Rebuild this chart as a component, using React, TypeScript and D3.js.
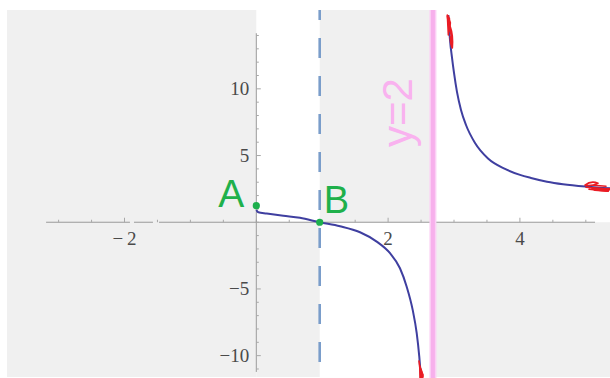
import React from 'react';
import * as d3 from 'd3';

const W = 610;
const H = 378;

// Sampled branches of the curve, left of and right of the vertical asymptote
const leftBranchX = [0, 0.03, 0.158, 0.41, 0.663, 0.962, 1.27, 1.574, 1.827, 2.029, 2.18, 2.282, 2.373, 2.434, 2.473, 2.499];
const leftBranchY = [0.92, 0.75, 0.66, 0.49, 0.33, 0, -0.3, -0.75, -1.45, -2.32, -3.45, -4.83, -6.57, -8.32, -10.07, -11.67];
const rightBranchX = [2.914, 2.939, 2.97, 3.0, 3.045, 3.106, 3.182, 3.319, 3.516, 3.774, 4.002, 4.168, 4.411, 4.654, 5.018, 5.367];
const rightBranchY = [15.54, 13.67, 12.32, 11.19, 9.77, 8.42, 7.29, 5.94, 4.78, 4.0, 3.55, 3.32, 3.04, 2.85, 2.67, 2.55];

// Named points
const pointNames = ['A', 'B'];
const pointX = [0, 0.962];
const pointY = [1.24, 0];

// Guide lines
const dashedX = 0.962;
const asymptoteX = 2.68;
const asymptoteLabel = 'y=2';

// Sign-chart shading bands
const bandX0 = [-3.783, 0, 0.962, 2.68];
const bandX1 = [0, 0.962, 2.68, 5.367];
const bandTop = [15.91, 0, 15.91, 0];
const bandBottom = [-11.6, -11.6, 0, -11.6];

// Axes
const xAxisSegments: [number, number][] = [[-3.19, -1.917], [-1.856, -1.568], [-1.477, 5.14]];
const yAxisRange = [-11.22, 14.17];
const xTickLabels = [-2, 2, 4];
const yTickLabels = [-10, -5, 5, 10];

const fmt = (v: number, spaced: boolean) =>
  v < 0 ? (spaced ? '\u2212\u2009' : '\u2212') + Math.abs(v) : String(v);

export default function App() {
  const x = d3.scaleLinear().domain([-3.783, 5.367]).range([7, 610]);
  const y = d3.scaleLinear().domain([-11.6, 15.91]).range([377, 10]);

  const line = d3
    .line<[number, number]>()
    .x((d) => x(d[0]))
    .y((d) => y(d[1]))
    .curve(d3.curveMonotoneX);

  const left = line(leftBranchX.map((v, i) => [v, leftBranchY[i]]) as [number, number][]) || '';
  const right = line(rightBranchX.map((v, i) => [v, rightBranchY[i]]) as [number, number][]) || '';

  const x0 = x(0);
  const y0 = y(0);

  const xMinor = d3.range(-3, 5.01, 0.5);
  const yMinor = d3.range(-11, 14.01, 1);

  // endpoints for the hand-drawn arrow marks
  const topEnd = [x(rightBranchX[0]), y(rightBranchY[0])];
  const rightEnd = [x(rightBranchX[rightBranchX.length - 1]), y(rightBranchY[rightBranchY.length - 1])];
  const bottomEnd = [x(leftBranchX[leftBranchX.length - 1]), y(leftBranchY[leftBranchY.length - 1])];

  const red = '#ea1c24';

  return (
    <svg
      width={W}
      height={H}
      style={{ position: 'absolute', left: 0, top: 0, background: '#fff' }}
    >
      <defs>
        <clipPath id="plot">
          <rect x={7} y={10} width={603} height={368} />
        </clipPath>
      </defs>

      {bandX0.map((b, i) => (
        <rect
          key={i}
          x={x(b)}
          y={y(bandTop[i])}
          width={x(bandX1[i]) - x(b)}
          height={y(bandBottom[i]) - y(bandTop[i])}
          fill="#f0f0f0"
        />
      ))}

      {/* x axis */}
      {xAxisSegments.map(([a, b], i) => (
        <line key={i} x1={x(a)} x2={x(b)} y1={y0} y2={y0} stroke="#9a9a9a" strokeWidth={1} />
      ))}
      {xMinor.map((t) => {
        const major = Math.abs(t) % 2 === 0 && t !== 0;
        return (
          <line
            key={t}
            x1={x(t)}
            x2={x(t)}
            y1={y0}
            y2={y0 - (major ? 4.5 : 2.5)}
            stroke="#a8a8a8"
            strokeWidth={1}
          />
        );
      })}
      {xTickLabels.map((t) => (
        <text
          key={t}
          x={x(t)}
          y={y0 + 23}
          textAnchor="middle"
          fontFamily="'Liberation Serif', serif"
          fontSize={19}
          fill="#4a4a4a"
        >
          {fmt(t, true)}
        </text>
      ))}

      {/* y axis */}
      <line x1={x0} x2={x0} y1={y(yAxisRange[0])} y2={y(yAxisRange[1])} stroke="#9a9a9a" strokeWidth={1} />
      {yMinor.map((t) => {
        const major = t % 5 === 0 && t !== 0;
        return (
          <line
            key={t}
            x1={x0}
            x2={x0 + (major ? 4.5 : 2.5)}
            y1={y(t)}
            y2={y(t)}
            stroke="#a8a8a8"
            strokeWidth={1}
          />
        );
      })}
      {yTickLabels.map((t) => (
        <text
          key={t}
          x={x0 - 7}
          y={y(t) + 6.5}
          textAnchor="end"
          fontFamily="'Liberation Serif', serif"
          fontSize={19}
          fill="#4a4a4a"
        >
          {fmt(t, false)}
        </text>
      ))}

      {/* dashed guide */}
      <line
        x1={x(dashedX)}
        x2={x(dashedX)}
        y1={0}
        y2={H}
        stroke="#7a9dca"
        strokeWidth={2.6}
        strokeDasharray="20 18"
        clipPath="url(#plot)"
      />

      {/* vertical asymptote */}
      <line x1={x(asymptoteX)} x2={x(asymptoteX)} y1={10} y2={H} stroke="#fbd0f5" strokeWidth={7} />
      <line x1={x(asymptoteX)} x2={x(asymptoteX)} y1={10} y2={H} stroke="#f7b0ec" strokeWidth={4} />

      {/* curve */}
      <g clipPath="url(#plot)">
        <path d={left} fill="none" stroke="#3f3fa0" strokeWidth={2} />
        <path d={right} fill="none" stroke="#3f3fa0" strokeWidth={2} />
      </g>

      {/* hand-drawn arrow marks at the ends of the branches */}
      <g fill="none" stroke={red} strokeWidth={1.6} strokeLinecap="round" strokeLinejoin="round">
        <g transform={`translate(${topEnd[0]},${topEnd[1]})`}>
          <path d="M-1,0 L0,20 M0,1 L3,22 L4,33 M1,3 L2,18 M2,12 Q5,20 4,33 Q2,30 2,22" />
          <path d="M-1,1 L2,8 L1,16 Z" fill={red} />
        </g>
        <g transform={`translate(${bottomEnd[0]},${bottomEnd[1]})`}>
          <path d="M-2,-17 L0,0 M-1,-12 L1.5,0 M0,-9 L2,-1" />
          <path d="M-1,-10 L2,-3 L1,0 L-1,0 Z" fill={red} />
        </g>
        <g transform={`translate(${rightEnd[0]},${rightEnd[1]})`}>
          <path d="M-25,-3 Q-19,-8 -12,-5 Q-18,-2 -25,-3 M-24,-1 L0,1 M-21,1 L-2,3 M-16,-3 L-4,-2" />
          <path d="M-18,0 L0,0.5 L-2,3 L-15,2 Z" fill={red} />
        </g>
      </g>

      {/* named points */}
      {pointNames.map((n, i) => (
        <circle key={n} cx={x(pointX[i])} cy={y(pointY[i])} r={3.6} fill="#1daf4c" />
      ))}
      <text
        x={x(pointX[0]) - 38}
        y={y(pointY[0]) + 1.5}
        fontFamily="'Liberation Sans', Arial, sans-serif"
        fontSize={39}
        fill="#1fb04b"
      >
        {pointNames[0]}
      </text>
      <text
        x={x(pointX[1]) + 4}
        y={y(pointY[1]) - 9}
        fontFamily="'Liberation Sans', Arial, sans-serif"
        fontSize={38}
        fill="#1fb04b"
      >
        {pointNames[1]}
      </text>

      {/* asymptote label */}
      <text
        transform={`translate(${x(asymptoteX) - 21},147) rotate(-90)`}
        fontFamily="'Liberation Sans', Arial, sans-serif"
        fontSize={42}
        fill="#f9b2ef"
      >
        {asymptoteLabel}
      </text>
    </svg>
  );
}
